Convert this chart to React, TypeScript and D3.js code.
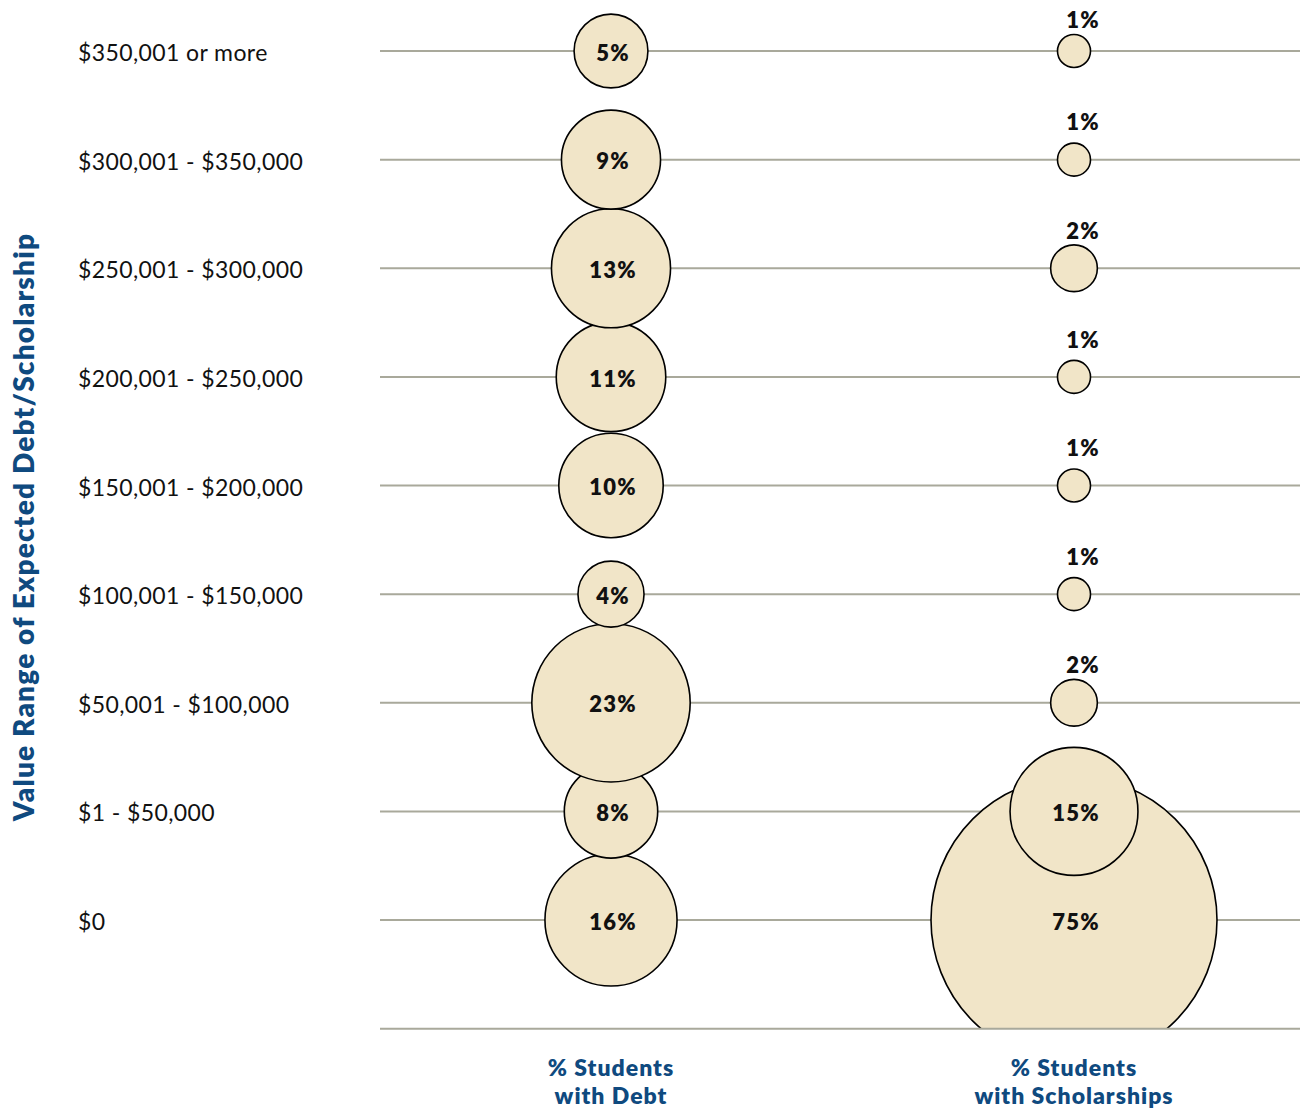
import React, { useRef, useEffect } from "react";
import * as d3 from "d3";

const ranges = [
  "$350,001 or more",
  "$300,001 - $350,000",
  "$250,001 - $300,000",
  "$200,001 - $250,000",
  "$150,001 - $200,000",
  "$100,001 - $150,000",
  "$50,001 - $100,000",
  "$1 - $50,000",
  "$0",
];
const debtPct = [5, 9, 13, 11, 10, 4, 23, 8, 16];
const scholarshipPct = [1, 1, 2, 1, 1, 1, 2, 15, 75];
const columns = ["% Students|with Debt", "% Students|with Scholarships"];

const W = 1300;
const H = 1109;
const FONT = "Lato, 'Open Sans', sans-serif";

export default function App() {
  const svgRef = useRef<SVGSVGElement>(null);

  useEffect(() => {
    const svg = d3.select(svgRef.current);
    svg.selectAll("*").remove();

    const y = d3.scalePoint<string>().domain(ranges).range([51, 920]);
    const x = d3.scalePoint<string>().domain(columns).range([611, 1074]);
    const r = d3.scaleSqrt().domain([0, 75]).range([0, 143]);
    const bottom = (y(ranges[ranges.length - 1]) as number) + y.step();

    svg
      .append("defs")
      .append("clipPath")
      .attr("id", "plot-clip")
      .append("rect")
      .attr("x", 0)
      .attr("y", 0)
      .attr("width", W)
      .attr("height", bottom);

    // grid lines
    svg
      .append("g")
      .selectAll("line")
      .data(ranges)
      .enter()
      .append("line")
      .attr("x1", 380)
      .attr("x2", W)
      .attr("y1", (d) => y(d) as number)
      .attr("y2", (d) => y(d) as number)
      .attr("stroke", "#a9a99b")
      .attr("stroke-width", 2);

    // row labels
    svg
      .append("g")
      .selectAll("text")
      .data(ranges)
      .enter()
      .append("text")
      .attr("x", 78)
      .attr("y", (d) => (y(d) as number) + 2)
      .attr("dy", "0.35em")
      .attr("font-family", FONT)
      .attr("font-size", 23)
      .attr("letter-spacing", 0.4)
      .attr("fill", "#111")
      .text((d) => d);

    const series = [debtPct, scholarshipPct];
    series.forEach((vals, ci) => {
      const cx = x(columns[ci]) as number;
      const rows = ranges.map((cat, i) => ({ cat, v: vals[i] })).reverse();
      const outside = (d: { v: number }) => ci === 1 && r(d.v) < 30;
      const g = svg.append("g").attr("clip-path", "url(#plot-clip)");
      g.selectAll("circle")
        .data(rows)
        .enter()
        .append("circle")
        .attr("cx", cx)
        .attr("cy", (d) => y(d.cat) as number)
        .attr("r", (d) => r(d.v))
        .attr("fill", "#f1e5c8")
        .attr("stroke", "#000")
        .attr("stroke-width", 1.6);

      g.selectAll("text")
        .data(rows)
        .enter()
        .append("text")
        .attr("x", (d) => (outside(d) ? cx + 9 : cx + 2))
        .attr("y", (d) =>
          outside(d) ? Math.max((y(d.cat) as number) - 37, 20) : (y(d.cat) as number) + 2
        )
        .attr("dy", "0.35em")
        .attr("text-anchor", "middle")
        .attr("font-family", FONT)
        .attr("font-weight", 800)
        .attr("font-size", 22)
        .attr("letter-spacing", 1.2)
        .attr("fill", "#111")
        .text((d) => d.v + "%");
    });

    // bottom axis line
    svg
      .append("line")
      .attr("x1", 380)
      .attr("x2", W)
      .attr("y1", bottom)
      .attr("y2", bottom)
      .attr("stroke", "#a9a99b")
      .attr("stroke-width", 2);

    // column labels
    const colLabels = svg
      .append("g")
      .selectAll("text")
      .data(columns)
      .enter()
      .append("text")
      .attr("x", (d) => x(d) as number)
      .attr("y", 1076)
      .attr("text-anchor", "middle")
      .attr("font-family", FONT)
      .attr("font-weight", 800)
      .attr("font-size", 23)
      .attr("letter-spacing", 1)
      .attr("fill", "#0f4a7f");
    colLabels
      .selectAll("tspan")
      .data((d) => d.split("|"))
      .enter()
      .append("tspan")
      .attr("x", function () {
        return (this as any).parentNode.getAttribute("x");
      })
      .attr("dy", (d, i) => (i === 0 ? 0 : 28))
      .text((d) => d);

    // y axis title
    svg
      .append("text")
      .attr("transform", `translate(34, 527) rotate(-90)`)
      .attr("text-anchor", "middle")
      .attr("font-family", FONT)
      .attr("font-weight", 800)
      .attr("font-size", 28)
      .attr("letter-spacing", 1.2)
      .attr("fill", "#0f4a7f")
      .text("Value Range of Expected Debt/Scholarship");
  }, []);

  return (
    <div style={{ position: "absolute", left: 0, top: 0 }}>
      <svg ref={svgRef} width={W} height={H} style={{ display: "block", background: "#fff" }}></svg>
    </div>
  );
}
